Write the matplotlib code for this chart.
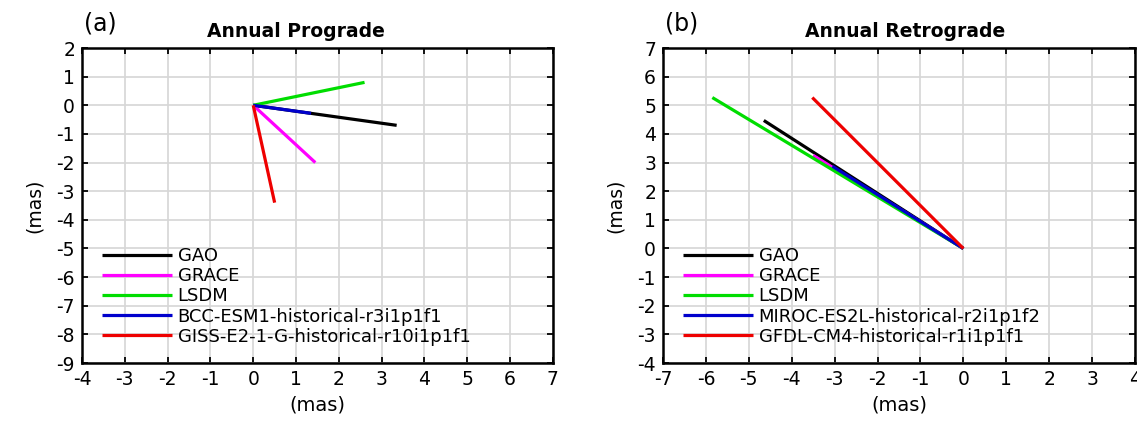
import matplotlib
matplotlib.use('Agg')
import matplotlib.pyplot as plt
import numpy as np

plt.rcParams['font.family'] = ['DejaVu Sans']
plt.rcParams['axes.unicode_minus'] = False

# end points of the annual phasors (x, y) in mas, each drawn from the origin
labels_a = ['GAO', 'GRACE', 'LSDM',
            'BCC-ESM1-historical-r3i1p1f1',
            'GISS-E2-1-G-historical-r10i1p1f1']
x_a = [3.35, 1.45, 2.6, 1.35, 0.5]
y_a = [-0.7, -2.0, 0.8, -0.28, -3.4]

labels_b = ['GAO', 'GRACE', 'LSDM',
            'MIROC-ES2L-historical-r2i1p1f2',
            'GFDL-CM4-historical-r1i1p1f1']
x_b = [-4.65, -3.5, -5.85, -3.05, -3.52]
y_b = [4.47, 3.25, 5.27, 2.87, 5.27]

colors = ['black', '#ff00ff', '#00dd00', '#0000cc', '#ee0000']

xticks_a = np.arange(-4, 8)
yticks_a = np.arange(-9, 3)
xticks_b = np.arange(-7, 5)
yticks_b = np.arange(-4, 8)


def phasor_panel(ax, xs, ys, labels, title, title_x, tag, xt, yt):
    for x, y, c, lab in zip(xs, ys, colors, labels):
        ax.plot([0, x], [0, y], color=c, lw=2.3, label=lab, solid_capstyle='butt')
    ax.set_xlim(xt[0], xt[-1])
    ax.set_ylim(yt[0], yt[-1])
    ax.set_xticks(xt)
    ax.set_yticks(yt)
    ax.grid(True, color='#d6d6d6', lw=1.2)
    ax.set_axisbelow(True)
    ax.tick_params(direction='in', top=True, right=True, length=4, width=1.3,
                   labelsize=13.5, pad=5)
    for s in ax.spines.values():
        s.set_linewidth(1.8)
    ax.set_xlabel('(mas)', fontsize=14, labelpad=5)
    ax.set_ylabel('(mas)', fontsize=13.5, labelpad=9)
    ax.set_title(title, fontsize=13.5, fontweight='bold', x=title_x, pad=8)
    ax.text(0.005, 1.04, tag, transform=ax.transAxes, fontsize=17,
            ha='left', va='bottom')
    ax.legend(loc='lower left', bbox_to_anchor=(0.042, 0.055), frameon=False,
              fontsize=13, handlelength=3.9, handletextpad=0.3,
              labelspacing=0.12, borderpad=0, borderaxespad=0)


fig = plt.figure(figsize=(11.37, 4.23), dpi=100)
ax1 = fig.add_axes([0.0721, 0.1418, 0.4142, 0.7447])
ax2 = fig.add_axes([0.5831, 0.1418, 0.4151, 0.7447])

phasor_panel(ax1, x_a, y_a, labels_a, 'Annual Prograde', 0.454, '(a)',
             xticks_a, yticks_a)
phasor_panel(ax2, x_b, y_b, labels_b, 'Annual Retrograde', 0.513, '(b)',
             xticks_b, yticks_b)

fig.savefig('out.png', dpi=100)
